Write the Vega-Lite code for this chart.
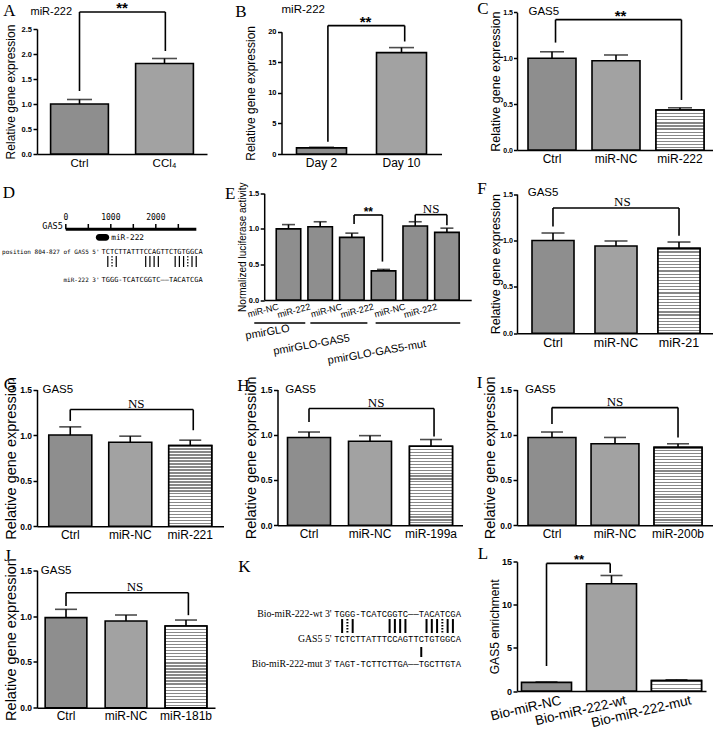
{
"$schema": "https://vega.github.io/schema/vega-lite/v6.json",
"background": "white",
"padding": {"left": 2, "top": 0, "right": 0, "bottom": 0},
"config": {
  "view": {"stroke": null},
  "font": "Liberation Sans",
  "axis": {"domainColor": "black", "domainWidth": 1.5, "tickColor": "black", "tickWidth": 1.5, "tickSize": 4, "labelColor": "black", "titleColor": "black", "labelFont": "Liberation Sans", "titleFont": "Liberation Sans", "titleFontWeight": "normal", "grid": false, "labelOverlap": false, "labelBound": false},
  "axisX": {"ticks": false, "labelAngle": 0, "labelPadding": 3, "labelFontSize": 12},
  "axisY": {"labelFontWeight": "bold", "labelFontSize": 7.5, "labelPadding": 1.5, "titleFontSize": 12, "labelOverlap": false},
  "text": {"color": "black"},
  "rule": {"color": "black"},
  "tick": {"color": "black"}
},
"columns": 3,
"align": "each",
"bounds": "flush",
"spacing": {"row": 34.5, "column": 10},
"concat": [
 {"width": 170, "height": 142, "resolve": {"scale": {"x": "independent"}}, "layer": [
  {"data": {"values": [{"g": "Ctrl", "v": 1.0, "e": 1.09, "p": "fine"}, {"g": "CCl₄", "v": 1.81, "e": 1.91, "p": "coarse"}]},
   "layer": [
    {"mark": {"type": "bar", "stroke": "black", "strokeWidth": 1.6}, "encoding": {
      "x": {"field": "g", "type": "nominal", "sort": null, "scale": {"paddingInner": 0.32, "paddingOuter": 0.16}, "axis": {"title": null, "labelFontSize": 11.5}},
      "y": {"field": "v", "type": "quantitative", "scale": {"domain": [0, 2.5], "range": [142, 17], "nice": false}, "axis": {"values": [0, 0.5, 1, 1.5, 2, 2.5], "tickCount": 12, "format": ".1f", "labelOverlap": false, "title": "Relative gene expression", "titleFontSize": 12, "titlePadding": 3.6}},
      "fill": {"field": "p", "type": "nominal", "scale": {"domain": ["fine", "coarse", "stripe"], "range": ["#8e8e8e", "#a2a2a2", "#d0d0d0"]}, "legend": null}}},
    {"mark": {"type": "rule", "strokeWidth": 1.6}, "encoding": {"x": {"field": "g", "type": "nominal", "sort": null}, "y": {"field": "v", "type": "quantitative"}, "y2": {"field": "e"}}},
    {"mark": {"type": "tick", "thickness": 1.6, "size": 25}, "encoding": {"x": {"field": "g", "type": "nominal", "sort": null}, "y": {"field": "e", "type": "quantitative"}}}
   ]},
  {"layer": [
   {"data": {"values": [{"x": 0, "x2": 0, "y": 2.84, "y2": 1.26}, {"x": 0, "x2": 1.01, "y": 2.84, "y2": 2.84}, {"x": 1.01, "x2": 1.01, "y": 2.84, "y2": 2.06}]},
    "mark": {"type": "rule", "strokeWidth": 1.6},
    "encoding": {"x": {"field": "x", "type": "quantitative", "scale": {"domain": [-0.5, 1.5], "nice": false, "zero": false}, "axis": null}, "x2": {"field": "x2"}, "y": {"field": "y", "type": "quantitative"}, "y2": {"field": "y2"}}},
   {"data": {"values": [{"x": 0.5, "y": 2.84, "s": "**"}]},
    "mark": {"type": "text", "fontWeight": "bold", "fontSize": 15, "baseline": "alphabetic", "dy": 1},
    "encoding": {"x": {"field": "x", "type": "quantitative", "axis": null}, "y": {"field": "y", "type": "quantitative"}, "text": {"field": "s"}}},
   {"data": {"values": [{"s": "miR-222"}]},
    "mark": {"type": "text", "fontSize": 11, "align": "left", "baseline": "middle", "dx": -6.5, "dy": -17},
    "encoding": {"x": {"datum": -0.5, "type": "quantitative", "axis": null}, "y": {"datum": 2.5, "type": "quantitative"}, "text": {"field": "s"}}},
   {"data": {"values": [{"s": "A"}]},
    "mark": {"type": "text", "font": "Liberation Serif", "fontSize": 17, "align": "center", "baseline": "middle", "dx": -27.5, "dy": -18},
    "encoding": {"x": {"datum": -0.5, "type": "quantitative", "axis": null}, "y": {"datum": 2.5, "type": "quantitative"}, "text": {"field": "s"}}}
  ]}
 ]},
 {"width": 203.5, "height": 142, "resolve": {"scale": {"x": "independent"}}, "layer": [
  {"data": {"values": [{"g": "Day 2", "v": 1.0, "e": 1.1, "p": "fine"}, {"g": "Day 10", "v": 16.57, "e": 17.4, "p": "coarse"}]},
   "layer": [
    {"mark": {"type": "bar", "stroke": "black", "strokeWidth": 1.6}, "encoding": {
      "x": {"field": "g", "type": "nominal", "sort": null, "scale": {"paddingInner": 0.375, "paddingOuter": 0.1875, "range": [43.5, 203.5]}, "axis": {"title": null, "labelFontSize": 12}},
      "y": {"field": "v", "type": "quantitative", "scale": {"domain": [0, 20], "range": [142, 19.7], "nice": false}, "axis": {"offset": -43.5, "values": [0, 5, 10, 15, 20], "tickCount": 12, "format": "d", "labelOverlap": false, "title": "Relative gene expression", "titleFontSize": 12, "titlePadding": 10}},
      "fill": {"field": "p", "type": "nominal", "scale": {"domain": ["fine", "coarse", "stripe"], "range": ["#8e8e8e", "#a2a2a2", "#d0d0d0"]}, "legend": null}}},
    {"mark": {"type": "rule", "strokeWidth": 1.6}, "encoding": {"x": {"field": "g", "type": "nominal", "sort": null}, "y": {"field": "v", "type": "quantitative"}, "y2": {"field": "e"}}},
    {"mark": {"type": "tick", "thickness": 1.6, "size": 25}, "encoding": {"x": {"field": "g", "type": "nominal", "sort": null}, "y": {"field": "e", "type": "quantitative"}}}
   ]},
  {"layer": [
   {"data": {"values": [{"x": 0.08, "x2": 0.08, "y": 21, "y2": 2}, {"x": 0.08, "x2": 1.04, "y": 21, "y2": 21}, {"x": 1.04, "x2": 1.04, "y": 21, "y2": 18.4}]},
    "mark": {"type": "rule", "strokeWidth": 1.6},
    "encoding": {"x": {"field": "x", "type": "quantitative", "scale": {"domain": [-0.5, 1.5], "range": [43.5, 203.5], "nice": false, "zero": false}, "axis": null}, "x2": {"field": "x2"}, "y": {"field": "y", "type": "quantitative"}, "y2": {"field": "y2"}}},
   {"data": {"values": [{"x": 0.55, "y": 21, "s": "**"}]},
    "mark": {"type": "text", "fontWeight": "bold", "fontSize": 15, "baseline": "alphabetic", "dy": 1},
    "encoding": {"x": {"field": "x", "type": "quantitative", "axis": null}, "y": {"field": "y", "type": "quantitative"}, "text": {"field": "s"}}},
   {"data": {"values": [{"s": "miR-222"}]},
    "mark": {"type": "text", "fontSize": 11.5, "align": "left", "baseline": "middle", "dx": 0, "dy": -21.7},
    "encoding": {"x": {"datum": -0.5, "type": "quantitative", "axis": null}, "y": {"datum": 20, "type": "quantitative"}, "text": {"field": "s"}}},
   {"data": {"values": [{"s": "B"}]},
    "mark": {"type": "text", "font": "Liberation Serif", "fontSize": 17, "align": "center", "baseline": "middle", "dx": -40.5, "dy": -19.7},
    "encoding": {"x": {"datum": -0.5, "type": "quantitative", "axis": null}, "y": {"datum": 20, "type": "quantitative"}, "text": {"field": "s"}}}
  ]}
 ]},
 {"width": 198, "height": 138, "resolve": {"scale": {"x": "independent"}}, "layer": [
  {"data": {"values": [{"g": "Ctrl", "v": 1.0, "e": 1.07, "p": "fine"}, {"g": "miR-NC", "v": 0.973, "e": 1.035, "p": "coarse"}, {"g": "miR-222", "v": 0.436, "e": 0.46, "p": "stripe"}]},
   "layer": [
    {"mark": {"type": "bar", "stroke": "black", "strokeWidth": 1.6}, "encoding": {
      "x": {"field": "g", "type": "nominal", "sort": null, "scale": {"paddingInner": 0.25, "paddingOuter": 0.172}, "axis": {"title": null, "labelFontSize": 12}},
      "y": {"field": "v", "type": "quantitative", "scale": {"domain": [0, 1.5], "range": [138, 0.3], "nice": false}, "axis": {"values": [0, 0.5, 1, 1.5], "tickCount": 12, "format": ".1f", "labelOverlap": false, "title": "Relative gene expression", "titleFontSize": 12.5, "titlePadding": 0, "tickSize": 3.5, "labelPadding": 1, "labelFontSize": 7}},
      "fill": {"field": "p", "type": "nominal", "scale": {"domain": ["fine", "coarse", "stripe"], "range": ["#8e8e8e", "#a2a2a2", "#d0d0d0"]}, "legend": null}}},
    {"transform": [{"filter": "datum.p == 'stripe'"}], "mark": {"type": "bar", "stroke": "black", "strokeWidth": 1.6, "fill": {"gradient": "linear", "x1": 0, "y1": 0, "x2": 0, "y2": 1, "stops": [
      {"offset": 0, "color": "#888"}, {"offset": 0.0308, "color": "#888"}, {"offset": 0.0308, "color": "#fff"}, {"offset": 0.0769, "color": "#fff"},
      {"offset": 0.0769, "color": "#888"}, {"offset": 0.1077, "color": "#888"}, {"offset": 0.1077, "color": "#fff"}, {"offset": 0.1538, "color": "#fff"},
      {"offset": 0.1538, "color": "#888"}, {"offset": 0.1846, "color": "#888"}, {"offset": 0.1846, "color": "#fff"}, {"offset": 0.2308, "color": "#fff"},
      {"offset": 0.2308, "color": "#888"}, {"offset": 0.2615, "color": "#888"}, {"offset": 0.2615, "color": "#fff"}, {"offset": 0.3077, "color": "#fff"},
      {"offset": 0.3077, "color": "#888"}, {"offset": 0.3385, "color": "#888"}, {"offset": 0.3385, "color": "#fff"}, {"offset": 0.3846, "color": "#fff"},
      {"offset": 0.3846, "color": "#888"}, {"offset": 0.4154, "color": "#888"}, {"offset": 0.4154, "color": "#fff"}, {"offset": 0.4615, "color": "#fff"},
      {"offset": 0.4615, "color": "#888"}, {"offset": 0.4923, "color": "#888"}, {"offset": 0.4923, "color": "#fff"}, {"offset": 0.5385, "color": "#fff"},
      {"offset": 0.5385, "color": "#888"}, {"offset": 0.5692, "color": "#888"}, {"offset": 0.5692, "color": "#fff"}, {"offset": 0.6154, "color": "#fff"},
      {"offset": 0.6154, "color": "#888"}, {"offset": 0.6462, "color": "#888"}, {"offset": 0.6462, "color": "#fff"}, {"offset": 0.6923, "color": "#fff"},
      {"offset": 0.6923, "color": "#888"}, {"offset": 0.7231, "color": "#888"}, {"offset": 0.7231, "color": "#fff"}, {"offset": 0.7692, "color": "#fff"},
      {"offset": 0.7692, "color": "#888"}, {"offset": 0.8, "color": "#888"}, {"offset": 0.8, "color": "#fff"}, {"offset": 0.8462, "color": "#fff"},
      {"offset": 0.8462, "color": "#888"}, {"offset": 0.8769, "color": "#888"}, {"offset": 0.8769, "color": "#fff"}, {"offset": 0.9231, "color": "#fff"},
      {"offset": 0.9231, "color": "#888"}, {"offset": 0.9538, "color": "#888"}, {"offset": 0.9538, "color": "#fff"}, {"offset": 1, "color": "#fff"}]}},
     "encoding": {"x": {"field": "g", "type": "nominal", "sort": null}, "y": {"field": "v", "type": "quantitative"}}},
    {"mark": {"type": "rule", "strokeWidth": 1.6}, "encoding": {"x": {"field": "g", "type": "nominal", "sort": null}, "y": {"field": "v", "type": "quantitative"}, "y2": {"field": "e"}}},
    {"mark": {"type": "tick", "thickness": 1.6, "size": 24}, "encoding": {"x": {"field": "g", "type": "nominal", "sort": null}, "y": {"field": "e", "type": "quantitative"}}}
   ]},
  {"layer": [
   {"data": {"values": [{"x": 0.055, "x2": 0.055, "y": 1.42, "y2": 1.17}, {"x": 0.055, "x2": 2.023, "y": 1.42, "y2": 1.42}, {"x": 2.023, "x2": 2.023, "y": 1.42, "y2": 0.545}]},
    "mark": {"type": "rule", "strokeWidth": 1.6},
    "encoding": {"x": {"field": "x", "type": "quantitative", "scale": {"domain": [-0.547, 2.547], "nice": false, "zero": false}, "axis": null}, "x2": {"field": "x2"}, "y": {"field": "y", "type": "quantitative"}, "y2": {"field": "y2"}}},
   {"data": {"values": [{"x": 1.07, "y": 1.42, "s": "**"}]},
    "mark": {"type": "text", "fontWeight": "bold", "fontSize": 15, "baseline": "alphabetic", "dy": 1},
    "encoding": {"x": {"field": "x", "type": "quantitative", "axis": null}, "y": {"field": "y", "type": "quantitative"}, "text": {"field": "s"}}},
   {"data": {"values": [{"s": "GAS5"}]},
    "mark": {"type": "text", "fontSize": 11.5, "align": "left", "baseline": "middle", "dx": 11.5, "dy": 0},
    "encoding": {"x": {"datum": -0.547, "type": "quantitative", "axis": null}, "y": {"datum": 1.5, "type": "quantitative"}, "text": {"field": "s"}}},
   {"data": {"values": [{"s": "C"}]},
    "mark": {"type": "text", "font": "Liberation Serif", "fontSize": 17, "align": "center", "baseline": "middle", "dx": -34, "dy": -3.3},
    "encoding": {"x": {"datum": -0.547, "type": "quantitative", "axis": null}, "y": {"datum": 1.5, "type": "quantitative"}, "text": {"field": "s"}}}
  ]}
 ]},
 {"width": 191, "height": 144.8, "resolve": {"scale": {"x": "independent"}}, "layer": [
  {"layer": [
   {"data": {"values": [{"from": 0, "to": 2900}]}, "mark": {"type": "rule", "strokeWidth": 3},
    "encoding": {"x": {"field": "from", "type": "quantitative", "scale": {"domain": [-640, 3604], "nice": false, "zero": false}, "axis": null}, "x2": {"field": "to"}, "y": {"datum": 40.8, "type": "quantitative", "scale": {"domain": [0, 144.8], "reverse": true, "nice": false, "zero": false}, "axis": null}}},
   {"data": {"values": [{"nt": 0, "lab": "0"}, {"nt": 500, "lab": ""}, {"nt": 1000, "lab": "1000"}, {"nt": 1500, "lab": ""}, {"nt": 2000, "lab": "2000"}, {"nt": 2500, "lab": ""}]},
    "layer": [
     {"mark": {"type": "rule", "strokeWidth": 1.5}, "encoding": {"x": {"field": "nt", "type": "quantitative", "axis": null}, "y": {"datum": 35.5, "type": "quantitative", "axis": null}, "y2": {"datum": 40.8}}},
     {"mark": {"type": "text", "font": "DejaVu Sans Mono", "fontSize": 8, "baseline": "middle"}, "encoding": {"x": {"field": "nt", "type": "quantitative", "axis": null}, "y": {"datum": 29.5, "type": "quantitative", "axis": null}, "text": {"field": "lab"}}}
    ]},
   {"data": {"values": [{"s": "GAS5", "at": 0}]}, "mark": {"type": "text", "font": "DejaVu Sans Mono", "fontSize": 8.5, "align": "right", "baseline": "middle", "dx": -3},
    "encoding": {"x": {"field": "at", "type": "quantitative", "axis": null}, "y": {"datum": 37.5, "type": "quantitative", "axis": null}, "text": {"field": "s"}}},
   {"data": {"values": [{"from": 667, "to": 964, "s": "miR-222"}]}, "layer": [
     {"mark": {"type": "rect", "color": "black", "cornerRadius": 3.3}, "encoding": {"x": {"field": "from", "type": "quantitative", "axis": null}, "x2": {"field": "to"}, "y": {"datum": 45.5, "type": "quantitative", "axis": null}, "y2": {"datum": 52.2}}},
     {"mark": {"type": "text", "font": "DejaVu Sans Mono", "fontSize": 7.8, "align": "left", "baseline": "middle", "dx": 2}, "encoding": {"x": {"field": "to", "type": "quantitative", "axis": null}, "y": {"datum": 49, "type": "quantitative", "axis": null}, "text": {"field": "s"}}}
   ]}
  ]},
  {"layer": [
   {"data": {"values": [{"s": "TCTCTTATTTCCAGTTCTGTGGCA"}]}, "mark": {"type": "text", "font": "DejaVu Sans Mono", "fontSize": 7, "align": "left", "baseline": "middle"},
    "encoding": {"x": {"datum": -0.5, "type": "quantitative", "scale": {"domain": [-15.82, 29.55], "nice": false, "zero": false}, "axis": null}, "y": {"datum": 63.2, "type": "quantitative", "axis": null}, "text": {"field": "s"}}},
   {"data": {"values": [{"s": "TGGG-TCATCGGTC——TACATCGA"}]}, "mark": {"type": "text", "font": "DejaVu Sans Mono", "fontSize": 7, "align": "left", "baseline": "middle"},
    "encoding": {"x": {"datum": -0.5, "type": "quantitative", "axis": null}, "y": {"datum": 91.5, "type": "quantitative", "axis": null}, "text": {"field": "s"}}},
   {"data": {"values": [{"s": "position 804-827 of GAS5 5'"}]}, "mark": {"type": "text", "font": "DejaVu Sans Mono", "fontSize": 6, "align": "right", "baseline": "middle"},
    "encoding": {"x": {"datum": -0.95, "type": "quantitative", "axis": null}, "y": {"datum": 63.2, "type": "quantitative", "axis": null}, "text": {"field": "s"}}},
   {"data": {"values": [{"s": "miR-222 3'"}]}, "mark": {"type": "text", "font": "DejaVu Sans Mono", "fontSize": 6, "align": "right", "baseline": "middle"},
    "encoding": {"x": {"datum": -0.95, "type": "quantitative", "axis": null}, "y": {"datum": 91.5, "type": "quantitative", "axis": null}, "text": {"field": "s"}}},
   {"data": {"values": [{"c": 1, "k": "wc"}, {"c": 2, "k": "gu"}, {"c": 3, "k": "wc"}, {"c": 10, "k": "wc"}, {"c": 11, "k": "wc"}, {"c": 12, "k": "wc"}, {"c": 13, "k": "wc"}, {"c": 17, "k": "wc"}, {"c": 18, "k": "wc"}, {"c": 19, "k": "wc"}, {"c": 20, "k": "gu"}, {"c": 21, "k": "wc"}, {"c": 22, "k": "wc"}]},
    "mark": {"type": "rule", "strokeWidth": 1.2},
    "encoding": {"x": {"field": "c", "type": "quantitative", "axis": null}, "y": {"datum": 67.5, "type": "quantitative", "axis": null}, "y2": {"datum": 78.5}, "strokeDash": {"field": "k", "type": "nominal", "scale": {"domain": ["wc", "gu"], "range": [[1, 0], [1.5, 1.5]]}, "legend": null}}},
   {"data": {"values": [{"s": "D"}]}, "mark": {"type": "text", "font": "Liberation Serif", "fontSize": 17, "align": "center", "baseline": "middle", "dx": -28, "dy": 4.5},
    "encoding": {"x": {"datum": -15.82, "type": "quantitative", "axis": null}, "y": {"datum": 0, "type": "quantitative", "axis": null}, "text": {"field": "s"}}}
  ]}
 ]},
 {"width": 233.2, "height": 111.5, "resolve": {"scale": {"x": "independent"}}, "layer": [
  {"data": {"values": [{"g": "miR-NC|1", "v": 1.0, "e": 1.06, "p": "fine"}, {"g": "miR-222|1", "v": 1.03, "e": 1.1, "p": "fine"}, {"g": "miR-NC|2", "v": 0.88, "e": 0.94, "p": "fine"}, {"g": "miR-222|2", "v": 0.41, "e": 0.43, "p": "fine"}, {"g": "miR-NC|3", "v": 1.04, "e": 1.1, "p": "fine"}, {"g": "miR-222|3", "v": 0.95, "e": 1.01, "p": "fine"}]},
   "layer": [
    {"mark": {"type": "bar", "stroke": "black", "strokeWidth": 1.6}, "encoding": {
      "x": {"field": "g", "type": "nominal", "sort": null, "scale": {"paddingInner": 0.227, "paddingOuter": 0.38, "range": [26.2, 233.2]}, "axis": {"title": null, "labelExpr": "split(datum.label, '|')[0]", "labelAngle": -15, "labelAlign": "right", "labelBaseline": "top", "labelFontSize": 9, "labelPadding": 2, "labelOffset": -11}},
      "y": {"field": "v", "type": "quantitative", "scale": {"domain": [0, 1.5], "range": [111.5, 4.8], "nice": false}, "axis": {"offset": -26.2, "values": [0, 0.5, 1, 1.5], "tickCount": 12, "format": ".1f", "labelOverlap": false, "title": "Normalized luciferase activity", "titleFontSize": 10, "titlePadding": 1}},
      "fill": {"field": "p", "type": "nominal", "scale": {"domain": ["fine", "coarse", "stripe"], "range": ["#8e8e8e", "#a2a2a2", "#d0d0d0"]}, "legend": null}}},
    {"mark": {"type": "rule", "strokeWidth": 1.6}, "encoding": {"x": {"field": "g", "type": "nominal", "sort": null}, "y": {"field": "v", "type": "quantitative"}, "y2": {"field": "e"}}},
    {"mark": {"type": "tick", "thickness": 1.6, "size": 13}, "encoding": {"x": {"field": "g", "type": "nominal", "sort": null}, "y": {"field": "e", "type": "quantitative"}}}
   ]},
  {"layer": [
   {"data": {"values": [{"x": 2.07, "x2": 2.07, "y": 1.195, "y2": 1.07}, {"x": 2.07, "x2": 2.965, "y": 1.195, "y2": 1.195}, {"x": 2.965, "x2": 2.965, "y": 1.195, "y2": 0.54}, {"x": 4.0, "x2": 4.0, "y": 1.2, "y2": 1.1}, {"x": 4.0, "x2": 5.0, "y": 1.2, "y2": 1.2}, {"x": 5.0, "x2": 5.0, "y": 1.2, "y2": 1.05}, {"x": -1.08, "x2": 0.53, "y": -0.323, "y2": -0.323}, {"x": 0.69, "x2": 2.49, "y": -0.323, "y2": -0.323}, {"x": 2.75, "x2": 5.42, "y": -0.323, "y2": -0.323}]},
    "mark": {"type": "rule", "strokeWidth": 1.6},
    "encoding": {"x": {"field": "x", "type": "quantitative", "scale": {"domain": [-0.7665, 5.7665], "range": [26.2, 233.2], "nice": false, "zero": false}, "axis": null}, "x2": {"field": "x2"}, "y": {"field": "y", "type": "quantitative"}, "y2": {"field": "y2"}}},
   {"data": {"values": [{"x": 2.52, "y": 1.195, "s": "**"}]},
    "mark": {"type": "text", "fontWeight": "bold", "fontSize": 12, "baseline": "alphabetic", "dy": 1},
    "encoding": {"x": {"field": "x", "type": "quantitative", "axis": null}, "y": {"field": "y", "type": "quantitative"}, "text": {"field": "s"}}},
   {"data": {"values": [{"x": 4.5, "y": 1.2, "s": "NS"}]},
    "mark": {"type": "text", "font": "Liberation Serif", "fontSize": 13, "baseline": "alphabetic", "dy": -1.5},
    "encoding": {"x": {"field": "x", "type": "quantitative", "axis": null}, "y": {"field": "y", "type": "quantitative"}, "text": {"field": "s"}}},
   {"data": {"values": [{"x": -0.66, "y": -0.457, "s": "pmirGLO"}, {"x": 0.73, "y": -0.633, "s": "pmirGLO-GAS5"}, {"x": 2.79, "y": -0.738, "s": "pmirGLO-GAS5-mut"}]},
    "mark": {"type": "text", "fontSize": 11, "angle": -10, "baseline": "middle"},
    "encoding": {"x": {"field": "x", "type": "quantitative", "axis": null}, "y": {"field": "y", "type": "quantitative"}, "text": {"field": "s"}}},
   {"data": {"values": [{"s": "E"}]},
    "mark": {"type": "text", "font": "Liberation Serif", "fontSize": 17, "align": "center", "baseline": "middle", "dx": -34, "dy": 0.7},
    "encoding": {"x": {"datum": -0.7665, "type": "quantitative", "axis": null}, "y": {"datum": 1.5, "type": "quantitative"}, "text": {"field": "s"}}}
  ]}
 ]},
 {"width": 198, "height": 144.8, "resolve": {"scale": {"x": "independent"}}, "layer": [
  {"data": {"values": [{"g": "Ctrl", "v": 1.0, "e": 1.08, "p": "fine"}, {"g": "miR-NC", "v": 0.94, "e": 0.994, "p": "coarse"}, {"g": "miR-21", "v": 0.915, "e": 0.983, "p": "stripe"}]},
   "layer": [
    {"mark": {"type": "bar", "stroke": "black", "strokeWidth": 1.6}, "encoding": {
      "x": {"field": "g", "type": "nominal", "sort": null, "scale": {"paddingInner": 0.333, "paddingOuter": 0.238}, "axis": {"title": null, "labelFontSize": 12.5}},
      "y": {"field": "v", "type": "quantitative", "scale": {"domain": [0, 1.5], "range": [144.8, 5.5], "nice": false}, "axis": {"values": [0, 0.5, 1, 1.5], "tickCount": 12, "format": ".1f", "labelOverlap": false, "title": "Relative gene expression", "titleFontSize": 12.5, "titlePadding": 0, "tickSize": 3.5, "labelPadding": 1, "labelFontSize": 7.2}},
      "fill": {"field": "p", "type": "nominal", "scale": {"domain": ["fine", "coarse", "stripe"], "range": ["#8e8e8e", "#a2a2a2", "#d0d0d0"]}, "legend": null}}},
    {"transform": [{"filter": "datum.p == 'stripe'"}], "mark": {"type": "bar", "stroke": "black", "strokeWidth": 1.6, "fill": {"gradient": "linear", "x1": 0, "y1": 0, "x2": 0, "y2": 1, "stops": [
      {"offset": 0, "color": "#888"}, {"offset": 0.0148, "color": "#888"}, {"offset": 0.0148, "color": "#fff"}, {"offset": 0.037, "color": "#fff"},
      {"offset": 0.037, "color": "#888"}, {"offset": 0.0519, "color": "#888"}, {"offset": 0.0519, "color": "#fff"}, {"offset": 0.0741, "color": "#fff"},
      {"offset": 0.0741, "color": "#888"}, {"offset": 0.0889, "color": "#888"}, {"offset": 0.0889, "color": "#fff"}, {"offset": 0.1111, "color": "#fff"},
      {"offset": 0.1111, "color": "#888"}, {"offset": 0.1259, "color": "#888"}, {"offset": 0.1259, "color": "#fff"}, {"offset": 0.1481, "color": "#fff"},
      {"offset": 0.1481, "color": "#888"}, {"offset": 0.163, "color": "#888"}, {"offset": 0.163, "color": "#fff"}, {"offset": 0.1852, "color": "#fff"},
      {"offset": 0.1852, "color": "#888"}, {"offset": 0.2, "color": "#888"}, {"offset": 0.2, "color": "#fff"}, {"offset": 0.2222, "color": "#fff"},
      {"offset": 0.2222, "color": "#888"}, {"offset": 0.237, "color": "#888"}, {"offset": 0.237, "color": "#fff"}, {"offset": 0.2593, "color": "#fff"},
      {"offset": 0.2593, "color": "#888"}, {"offset": 0.2741, "color": "#888"}, {"offset": 0.2741, "color": "#fff"}, {"offset": 0.2963, "color": "#fff"},
      {"offset": 0.2963, "color": "#888"}, {"offset": 0.3111, "color": "#888"}, {"offset": 0.3111, "color": "#fff"}, {"offset": 0.3333, "color": "#fff"},
      {"offset": 0.3333, "color": "#888"}, {"offset": 0.3481, "color": "#888"}, {"offset": 0.3481, "color": "#fff"}, {"offset": 0.3704, "color": "#fff"},
      {"offset": 0.3704, "color": "#888"}, {"offset": 0.3852, "color": "#888"}, {"offset": 0.3852, "color": "#fff"}, {"offset": 0.4074, "color": "#fff"},
      {"offset": 0.4074, "color": "#888"}, {"offset": 0.4222, "color": "#888"}, {"offset": 0.4222, "color": "#fff"}, {"offset": 0.4444, "color": "#fff"},
      {"offset": 0.4444, "color": "#888"}, {"offset": 0.4593, "color": "#888"}, {"offset": 0.4593, "color": "#fff"}, {"offset": 0.4815, "color": "#fff"},
      {"offset": 0.4815, "color": "#888"}, {"offset": 0.4963, "color": "#888"}, {"offset": 0.4963, "color": "#fff"}, {"offset": 0.5185, "color": "#fff"},
      {"offset": 0.5185, "color": "#888"}, {"offset": 0.5333, "color": "#888"}, {"offset": 0.5333, "color": "#fff"}, {"offset": 0.5556, "color": "#fff"},
      {"offset": 0.5556, "color": "#888"}, {"offset": 0.5704, "color": "#888"}, {"offset": 0.5704, "color": "#fff"}, {"offset": 0.5926, "color": "#fff"},
      {"offset": 0.5926, "color": "#888"}, {"offset": 0.6074, "color": "#888"}, {"offset": 0.6074, "color": "#fff"}, {"offset": 0.6296, "color": "#fff"},
      {"offset": 0.6296, "color": "#888"}, {"offset": 0.6444, "color": "#888"}, {"offset": 0.6444, "color": "#fff"}, {"offset": 0.6667, "color": "#fff"},
      {"offset": 0.6667, "color": "#888"}, {"offset": 0.6815, "color": "#888"}, {"offset": 0.6815, "color": "#fff"}, {"offset": 0.7037, "color": "#fff"},
      {"offset": 0.7037, "color": "#888"}, {"offset": 0.7185, "color": "#888"}, {"offset": 0.7185, "color": "#fff"}, {"offset": 0.7407, "color": "#fff"},
      {"offset": 0.7407, "color": "#888"}, {"offset": 0.7556, "color": "#888"}, {"offset": 0.7556, "color": "#fff"}, {"offset": 0.7778, "color": "#fff"},
      {"offset": 0.7778, "color": "#888"}, {"offset": 0.7926, "color": "#888"}, {"offset": 0.7926, "color": "#fff"}, {"offset": 0.8148, "color": "#fff"},
      {"offset": 0.8148, "color": "#888"}, {"offset": 0.8296, "color": "#888"}, {"offset": 0.8296, "color": "#fff"}, {"offset": 0.8519, "color": "#fff"},
      {"offset": 0.8519, "color": "#888"}, {"offset": 0.8667, "color": "#888"}, {"offset": 0.8667, "color": "#fff"}, {"offset": 0.8889, "color": "#fff"},
      {"offset": 0.8889, "color": "#888"}, {"offset": 0.9037, "color": "#888"}, {"offset": 0.9037, "color": "#fff"}, {"offset": 0.9259, "color": "#fff"},
      {"offset": 0.9259, "color": "#888"}, {"offset": 0.9407, "color": "#888"}, {"offset": 0.9407, "color": "#fff"}, {"offset": 0.963, "color": "#fff"},
      {"offset": 0.963, "color": "#888"}, {"offset": 0.9778, "color": "#888"}, {"offset": 0.9778, "color": "#fff"}, {"offset": 1, "color": "#fff"}]}},
     "encoding": {"x": {"field": "g", "type": "nominal", "sort": null}, "y": {"field": "v", "type": "quantitative"}}},
    {"mark": {"type": "rule", "strokeWidth": 1.6}, "encoding": {"x": {"field": "g", "type": "nominal", "sort": null}, "y": {"field": "v", "type": "quantitative"}, "y2": {"field": "e"}}},
    {"mark": {"type": "tick", "thickness": 1.6, "size": 23}, "encoding": {"x": {"field": "g", "type": "nominal", "sort": null}, "y": {"field": "e", "type": "quantitative"}}}
   ]},
  {"layer": [
   {"data": {"values": [{"x": 0, "x2": 0, "y": 1.35, "y2": 1.15}, {"x": 0, "x2": 2, "y": 1.35, "y2": 1.35}, {"x": 2, "x2": 2, "y": 1.35, "y2": 1.05}]},
    "mark": {"type": "rule", "strokeWidth": 1.6},
    "encoding": {"x": {"field": "x", "type": "quantitative", "scale": {"domain": [-0.571, 2.571], "nice": false, "zero": false}, "axis": null}, "x2": {"field": "x2"}, "y": {"field": "y", "type": "quantitative"}, "y2": {"field": "y2"}}},
   {"data": {"values": [{"x": 1.1, "y": 1.35, "s": "NS"}]},
    "mark": {"type": "text", "font": "Liberation Serif", "fontSize": 13, "baseline": "alphabetic", "dy": -1.5},
    "encoding": {"x": {"field": "x", "type": "quantitative", "axis": null}, "y": {"field": "y", "type": "quantitative"}, "text": {"field": "s"}}},
   {"data": {"values": [{"s": "GAS5"}]},
    "mark": {"type": "text", "fontSize": 11.5, "align": "left", "baseline": "middle", "dx": 10.7, "dy": -1},
    "encoding": {"x": {"datum": -0.571, "type": "quantitative", "axis": null}, "y": {"datum": 1.5, "type": "quantitative"}, "text": {"field": "s"}}},
   {"data": {"values": [{"s": "F"}]},
    "mark": {"type": "text", "font": "Liberation Serif", "fontSize": 17, "align": "center", "baseline": "middle", "dx": -35, "dy": -5},
    "encoding": {"x": {"datum": -0.571, "type": "quantitative", "axis": null}, "y": {"datum": 1.5, "type": "quantitative"}, "text": {"field": "s"}}}
  ]}
 ]},
 {"width": 186.5, "height": 158.2, "resolve": {"scale": {"x": "independent"}}, "layer": [
  {"data": {"values": [{"g": "Ctrl", "v": 1.0, "e": 1.09, "p": "fine"}, {"g": "miR-NC", "v": 0.922, "e": 0.988, "p": "coarse"}, {"g": "miR-221", "v": 0.886, "e": 0.944, "p": "stripe"}]},
   "layer": [
    {"mark": {"type": "bar", "stroke": "black", "strokeWidth": 1.6}, "encoding": {
      "x": {"field": "g", "type": "nominal", "sort": null, "scale": {"paddingInner": 0.283, "paddingOuter": 0.196}, "axis": {"title": null, "labelFontSize": 12}},
      "y": {"field": "v", "type": "quantitative", "scale": {"domain": [0, 1.5], "range": [158.2, 21.5], "nice": false}, "axis": {"values": [0, 0.5, 1, 1.5], "tickCount": 12, "format": ".1f", "labelOverlap": false, "title": "Relative gene expression", "titleFontSize": 14.5, "titlePadding": 1.5, "labelFontSize": 8.5}},
      "fill": {"field": "p", "type": "nominal", "scale": {"domain": ["fine", "coarse", "stripe"], "range": ["#8e8e8e", "#a2a2a2", "#d0d0d0"]}, "legend": null}}},
    {"transform": [{"filter": "datum.p == 'stripe'"}], "mark": {"type": "bar", "stroke": "black", "strokeWidth": 1.6, "fill": {"gradient": "linear", "x1": 0, "y1": 0, "x2": 0, "y2": 1, "stops": [
      {"offset": 0, "color": "#888"}, {"offset": 0.0148, "color": "#888"}, {"offset": 0.0148, "color": "#fff"}, {"offset": 0.037, "color": "#fff"},
      {"offset": 0.037, "color": "#888"}, {"offset": 0.0519, "color": "#888"}, {"offset": 0.0519, "color": "#fff"}, {"offset": 0.0741, "color": "#fff"},
      {"offset": 0.0741, "color": "#888"}, {"offset": 0.0889, "color": "#888"}, {"offset": 0.0889, "color": "#fff"}, {"offset": 0.1111, "color": "#fff"},
      {"offset": 0.1111, "color": "#888"}, {"offset": 0.1259, "color": "#888"}, {"offset": 0.1259, "color": "#fff"}, {"offset": 0.1481, "color": "#fff"},
      {"offset": 0.1481, "color": "#888"}, {"offset": 0.163, "color": "#888"}, {"offset": 0.163, "color": "#fff"}, {"offset": 0.1852, "color": "#fff"},
      {"offset": 0.1852, "color": "#888"}, {"offset": 0.2, "color": "#888"}, {"offset": 0.2, "color": "#fff"}, {"offset": 0.2222, "color": "#fff"},
      {"offset": 0.2222, "color": "#888"}, {"offset": 0.237, "color": "#888"}, {"offset": 0.237, "color": "#fff"}, {"offset": 0.2593, "color": "#fff"},
      {"offset": 0.2593, "color": "#888"}, {"offset": 0.2741, "color": "#888"}, {"offset": 0.2741, "color": "#fff"}, {"offset": 0.2963, "color": "#fff"},
      {"offset": 0.2963, "color": "#888"}, {"offset": 0.3111, "color": "#888"}, {"offset": 0.3111, "color": "#fff"}, {"offset": 0.3333, "color": "#fff"},
      {"offset": 0.3333, "color": "#888"}, {"offset": 0.3481, "color": "#888"}, {"offset": 0.3481, "color": "#fff"}, {"offset": 0.3704, "color": "#fff"},
      {"offset": 0.3704, "color": "#888"}, {"offset": 0.3852, "color": "#888"}, {"offset": 0.3852, "color": "#fff"}, {"offset": 0.4074, "color": "#fff"},
      {"offset": 0.4074, "color": "#888"}, {"offset": 0.4222, "color": "#888"}, {"offset": 0.4222, "color": "#fff"}, {"offset": 0.4444, "color": "#fff"},
      {"offset": 0.4444, "color": "#888"}, {"offset": 0.4593, "color": "#888"}, {"offset": 0.4593, "color": "#fff"}, {"offset": 0.4815, "color": "#fff"},
      {"offset": 0.4815, "color": "#888"}, {"offset": 0.4963, "color": "#888"}, {"offset": 0.4963, "color": "#fff"}, {"offset": 0.5185, "color": "#fff"},
      {"offset": 0.5185, "color": "#888"}, {"offset": 0.5333, "color": "#888"}, {"offset": 0.5333, "color": "#fff"}, {"offset": 0.5556, "color": "#fff"},
      {"offset": 0.5556, "color": "#888"}, {"offset": 0.5704, "color": "#888"}, {"offset": 0.5704, "color": "#fff"}, {"offset": 0.5926, "color": "#fff"},
      {"offset": 0.5926, "color": "#888"}, {"offset": 0.6074, "color": "#888"}, {"offset": 0.6074, "color": "#fff"}, {"offset": 0.6296, "color": "#fff"},
      {"offset": 0.6296, "color": "#888"}, {"offset": 0.6444, "color": "#888"}, {"offset": 0.6444, "color": "#fff"}, {"offset": 0.6667, "color": "#fff"},
      {"offset": 0.6667, "color": "#888"}, {"offset": 0.6815, "color": "#888"}, {"offset": 0.6815, "color": "#fff"}, {"offset": 0.7037, "color": "#fff"},
      {"offset": 0.7037, "color": "#888"}, {"offset": 0.7185, "color": "#888"}, {"offset": 0.7185, "color": "#fff"}, {"offset": 0.7407, "color": "#fff"},
      {"offset": 0.7407, "color": "#888"}, {"offset": 0.7556, "color": "#888"}, {"offset": 0.7556, "color": "#fff"}, {"offset": 0.7778, "color": "#fff"},
      {"offset": 0.7778, "color": "#888"}, {"offset": 0.7926, "color": "#888"}, {"offset": 0.7926, "color": "#fff"}, {"offset": 0.8148, "color": "#fff"},
      {"offset": 0.8148, "color": "#888"}, {"offset": 0.8296, "color": "#888"}, {"offset": 0.8296, "color": "#fff"}, {"offset": 0.8519, "color": "#fff"},
      {"offset": 0.8519, "color": "#888"}, {"offset": 0.8667, "color": "#888"}, {"offset": 0.8667, "color": "#fff"}, {"offset": 0.8889, "color": "#fff"},
      {"offset": 0.8889, "color": "#888"}, {"offset": 0.9037, "color": "#888"}, {"offset": 0.9037, "color": "#fff"}, {"offset": 0.9259, "color": "#fff"},
      {"offset": 0.9259, "color": "#888"}, {"offset": 0.9407, "color": "#888"}, {"offset": 0.9407, "color": "#fff"}, {"offset": 0.963, "color": "#fff"},
      {"offset": 0.963, "color": "#888"}, {"offset": 0.9778, "color": "#888"}, {"offset": 0.9778, "color": "#fff"}, {"offset": 1, "color": "#fff"}]}},
     "encoding": {"x": {"field": "g", "type": "nominal", "sort": null}, "y": {"field": "v", "type": "quantitative"}}},
    {"mark": {"type": "rule", "strokeWidth": 1.6}, "encoding": {"x": {"field": "g", "type": "nominal", "sort": null}, "y": {"field": "v", "type": "quantitative"}, "y2": {"field": "e"}}},
    {"mark": {"type": "tick", "thickness": 1.6, "size": 22}, "encoding": {"x": {"field": "g", "type": "nominal", "sort": null}, "y": {"field": "e", "type": "quantitative"}}}
   ]},
  {"layer": [
   {"data": {"values": [{"x": 0, "x2": 0, "y": 1.28, "y2": 1.155}, {"x": 0, "x2": 2.05, "y": 1.28, "y2": 1.28}, {"x": 2.05, "x2": 2.05, "y": 1.28, "y2": 1.053}]},
    "mark": {"type": "rule", "strokeWidth": 1.6},
    "encoding": {"x": {"field": "x", "type": "quantitative", "scale": {"domain": [-0.554, 2.554], "nice": false, "zero": false}, "axis": null}, "x2": {"field": "x2"}, "y": {"field": "y", "type": "quantitative"}, "y2": {"field": "y2"}}},
   {"data": {"values": [{"x": 1.1, "y": 1.28, "s": "NS"}]},
    "mark": {"type": "text", "font": "Liberation Serif", "fontSize": 13, "baseline": "alphabetic", "dy": -1.5},
    "encoding": {"x": {"field": "x", "type": "quantitative", "axis": null}, "y": {"field": "y", "type": "quantitative"}, "text": {"field": "s"}}},
   {"data": {"values": [{"s": "GAS5"}]},
    "mark": {"type": "text", "fontSize": 11.5, "align": "left", "baseline": "middle", "dx": 5.5, "dy": 0},
    "encoding": {"x": {"datum": -0.554, "type": "quantitative", "axis": null}, "y": {"datum": 1.5, "type": "quantitative"}, "text": {"field": "s"}}},
   {"data": {"values": [{"s": "G"}]},
    "mark": {"type": "text", "font": "Liberation Serif", "fontSize": 17, "align": "center", "baseline": "middle", "dx": -27, "dy": -5},
    "encoding": {"x": {"datum": -0.554, "type": "quantitative", "axis": null}, "y": {"datum": 1.5, "type": "quantitative"}, "text": {"field": "s"}}}
  ]}
 ]},
 {"width": 224.5, "height": 157.2, "resolve": {"scale": {"x": "independent"}}, "layer": [
  {"data": {"values": [{"g": "Ctrl", "v": 0.969, "e": 1.03, "p": "fine"}, {"g": "miR-NC", "v": 0.928, "e": 0.99, "p": "coarse"}, {"g": "miR-199a", "v": 0.873, "e": 0.947, "p": "stripe"}]},
   "layer": [
    {"mark": {"type": "bar", "stroke": "black", "strokeWidth": 1.6}, "encoding": {
      "x": {"field": "g", "type": "nominal", "sort": null, "scale": {"paddingInner": 0.295, "paddingOuter": 0.164, "range": [39.5, 224.5]}, "axis": {"title": null, "labelFontSize": 12}},
      "y": {"field": "v", "type": "quantitative", "scale": {"domain": [0, 1.5], "range": [157.2, 21.5], "nice": false}, "axis": {"offset": -39.5, "values": [0, 0.5, 1, 1.5], "tickCount": 12, "format": ".1f", "labelOverlap": false, "title": "Relative gene expression", "titleFontSize": 14.5, "titlePadding": 2, "labelFontSize": 8.5}},
      "fill": {"field": "p", "type": "nominal", "scale": {"domain": ["fine", "coarse", "stripe"], "range": ["#8e8e8e", "#a2a2a2", "#d0d0d0"]}, "legend": null}}},
    {"transform": [{"filter": "datum.p == 'stripe'"}], "mark": {"type": "bar", "stroke": "black", "strokeWidth": 1.6, "fill": {"gradient": "linear", "x1": 0, "y1": 0, "x2": 0, "y2": 1, "stops": [
      {"offset": 0, "color": "#888"}, {"offset": 0.0148, "color": "#888"}, {"offset": 0.0148, "color": "#fff"}, {"offset": 0.037, "color": "#fff"},
      {"offset": 0.037, "color": "#888"}, {"offset": 0.0519, "color": "#888"}, {"offset": 0.0519, "color": "#fff"}, {"offset": 0.0741, "color": "#fff"},
      {"offset": 0.0741, "color": "#888"}, {"offset": 0.0889, "color": "#888"}, {"offset": 0.0889, "color": "#fff"}, {"offset": 0.1111, "color": "#fff"},
      {"offset": 0.1111, "color": "#888"}, {"offset": 0.1259, "color": "#888"}, {"offset": 0.1259, "color": "#fff"}, {"offset": 0.1481, "color": "#fff"},
      {"offset": 0.1481, "color": "#888"}, {"offset": 0.163, "color": "#888"}, {"offset": 0.163, "color": "#fff"}, {"offset": 0.1852, "color": "#fff"},
      {"offset": 0.1852, "color": "#888"}, {"offset": 0.2, "color": "#888"}, {"offset": 0.2, "color": "#fff"}, {"offset": 0.2222, "color": "#fff"},
      {"offset": 0.2222, "color": "#888"}, {"offset": 0.237, "color": "#888"}, {"offset": 0.237, "color": "#fff"}, {"offset": 0.2593, "color": "#fff"},
      {"offset": 0.2593, "color": "#888"}, {"offset": 0.2741, "color": "#888"}, {"offset": 0.2741, "color": "#fff"}, {"offset": 0.2963, "color": "#fff"},
      {"offset": 0.2963, "color": "#888"}, {"offset": 0.3111, "color": "#888"}, {"offset": 0.3111, "color": "#fff"}, {"offset": 0.3333, "color": "#fff"},
      {"offset": 0.3333, "color": "#888"}, {"offset": 0.3481, "color": "#888"}, {"offset": 0.3481, "color": "#fff"}, {"offset": 0.3704, "color": "#fff"},
      {"offset": 0.3704, "color": "#888"}, {"offset": 0.3852, "color": "#888"}, {"offset": 0.3852, "color": "#fff"}, {"offset": 0.4074, "color": "#fff"},
      {"offset": 0.4074, "color": "#888"}, {"offset": 0.4222, "color": "#888"}, {"offset": 0.4222, "color": "#fff"}, {"offset": 0.4444, "color": "#fff"},
      {"offset": 0.4444, "color": "#888"}, {"offset": 0.4593, "color": "#888"}, {"offset": 0.4593, "color": "#fff"}, {"offset": 0.4815, "color": "#fff"},
      {"offset": 0.4815, "color": "#888"}, {"offset": 0.4963, "color": "#888"}, {"offset": 0.4963, "color": "#fff"}, {"offset": 0.5185, "color": "#fff"},
      {"offset": 0.5185, "color": "#888"}, {"offset": 0.5333, "color": "#888"}, {"offset": 0.5333, "color": "#fff"}, {"offset": 0.5556, "color": "#fff"},
      {"offset": 0.5556, "color": "#888"}, {"offset": 0.5704, "color": "#888"}, {"offset": 0.5704, "color": "#fff"}, {"offset": 0.5926, "color": "#fff"},
      {"offset": 0.5926, "color": "#888"}, {"offset": 0.6074, "color": "#888"}, {"offset": 0.6074, "color": "#fff"}, {"offset": 0.6296, "color": "#fff"},
      {"offset": 0.6296, "color": "#888"}, {"offset": 0.6444, "color": "#888"}, {"offset": 0.6444, "color": "#fff"}, {"offset": 0.6667, "color": "#fff"},
      {"offset": 0.6667, "color": "#888"}, {"offset": 0.6815, "color": "#888"}, {"offset": 0.6815, "color": "#fff"}, {"offset": 0.7037, "color": "#fff"},
      {"offset": 0.7037, "color": "#888"}, {"offset": 0.7185, "color": "#888"}, {"offset": 0.7185, "color": "#fff"}, {"offset": 0.7407, "color": "#fff"},
      {"offset": 0.7407, "color": "#888"}, {"offset": 0.7556, "color": "#888"}, {"offset": 0.7556, "color": "#fff"}, {"offset": 0.7778, "color": "#fff"},
      {"offset": 0.7778, "color": "#888"}, {"offset": 0.7926, "color": "#888"}, {"offset": 0.7926, "color": "#fff"}, {"offset": 0.8148, "color": "#fff"},
      {"offset": 0.8148, "color": "#888"}, {"offset": 0.8296, "color": "#888"}, {"offset": 0.8296, "color": "#fff"}, {"offset": 0.8519, "color": "#fff"},
      {"offset": 0.8519, "color": "#888"}, {"offset": 0.8667, "color": "#888"}, {"offset": 0.8667, "color": "#fff"}, {"offset": 0.8889, "color": "#fff"},
      {"offset": 0.8889, "color": "#888"}, {"offset": 0.9037, "color": "#888"}, {"offset": 0.9037, "color": "#fff"}, {"offset": 0.9259, "color": "#fff"},
      {"offset": 0.9259, "color": "#888"}, {"offset": 0.9407, "color": "#888"}, {"offset": 0.9407, "color": "#fff"}, {"offset": 0.963, "color": "#fff"},
      {"offset": 0.963, "color": "#888"}, {"offset": 0.9778, "color": "#888"}, {"offset": 0.9778, "color": "#fff"}, {"offset": 1, "color": "#fff"}]}},
     "encoding": {"x": {"field": "g", "type": "nominal", "sort": null}, "y": {"field": "v", "type": "quantitative"}}},
    {"mark": {"type": "rule", "strokeWidth": 1.6}, "encoding": {"x": {"field": "g", "type": "nominal", "sort": null}, "y": {"field": "v", "type": "quantitative"}, "y2": {"field": "e"}}},
    {"mark": {"type": "tick", "thickness": 1.6, "size": 22}, "encoding": {"x": {"field": "g", "type": "nominal", "sort": null}, "y": {"field": "e", "type": "quantitative"}}}
   ]},
  {"layer": [
   {"data": {"values": [{"x": 0, "x2": 0, "y": 1.29, "y2": 1.14}, {"x": 0, "x2": 2.05, "y": 1.29, "y2": 1.29}, {"x": 2.05, "x2": 2.05, "y": 1.29, "y2": 0.98}]},
    "mark": {"type": "rule", "strokeWidth": 1.6},
    "encoding": {"x": {"field": "x", "type": "quantitative", "scale": {"domain": [-0.5165, 2.5165], "range": [39.5, 224.5], "nice": false, "zero": false}, "axis": null}, "x2": {"field": "x2"}, "y": {"field": "y", "type": "quantitative"}, "y2": {"field": "y2"}}},
   {"data": {"values": [{"x": 1.1, "y": 1.29, "s": "NS"}]},
    "mark": {"type": "text", "font": "Liberation Serif", "fontSize": 13, "baseline": "alphabetic", "dy": -1.5},
    "encoding": {"x": {"field": "x", "type": "quantitative", "axis": null}, "y": {"field": "y", "type": "quantitative"}, "text": {"field": "s"}}},
   {"data": {"values": [{"s": "GAS5"}]},
    "mark": {"type": "text", "fontSize": 11.5, "align": "left", "baseline": "middle", "dx": 7.7, "dy": 0},
    "encoding": {"x": {"datum": -0.5165, "type": "quantitative", "axis": null}, "y": {"datum": 1.5, "type": "quantitative"}, "text": {"field": "s"}}},
   {"data": {"values": [{"s": "H"}]},
    "mark": {"type": "text", "font": "Liberation Serif", "fontSize": 17, "align": "center", "baseline": "middle", "dx": -34, "dy": -4},
    "encoding": {"x": {"datum": -0.5165, "type": "quantitative", "axis": null}, "y": {"datum": 1.5, "type": "quantitative"}, "text": {"field": "s"}}}
  ]}
 ]},
 {"width": 196, "height": 157.2, "resolve": {"scale": {"x": "independent"}}, "layer": [
  {"data": {"values": [{"g": "Ctrl", "v": 0.97, "e": 1.03, "p": "fine"}, {"g": "miR-NC", "v": 0.9, "e": 0.97, "p": "coarse"}, {"g": "miR-200b", "v": 0.86, "e": 0.9, "p": "stripe"}]},
   "layer": [
    {"mark": {"type": "bar", "stroke": "black", "strokeWidth": 1.6}, "encoding": {
      "x": {"field": "g", "type": "nominal", "sort": null, "scale": {"paddingInner": 0.24, "paddingOuter": 0.175}, "axis": {"title": null, "labelFontSize": 12}},
      "y": {"field": "v", "type": "quantitative", "scale": {"domain": [0, 1.5], "range": [157.2, 21.5], "nice": false}, "axis": {"values": [0, 0.5, 1, 1.5], "tickCount": 12, "format": ".1f", "labelOverlap": false, "title": "Relative gene expression", "titleFontSize": 14.5, "titlePadding": 2, "labelFontSize": 8.5}},
      "fill": {"field": "p", "type": "nominal", "scale": {"domain": ["fine", "coarse", "stripe"], "range": ["#8e8e8e", "#a2a2a2", "#d0d0d0"]}, "legend": null}}},
    {"transform": [{"filter": "datum.p == 'stripe'"}], "mark": {"type": "bar", "stroke": "black", "strokeWidth": 1.6, "fill": {"gradient": "linear", "x1": 0, "y1": 0, "x2": 0, "y2": 1, "stops": [
      {"offset": 0, "color": "#888"}, {"offset": 0.0148, "color": "#888"}, {"offset": 0.0148, "color": "#fff"}, {"offset": 0.037, "color": "#fff"},
      {"offset": 0.037, "color": "#888"}, {"offset": 0.0519, "color": "#888"}, {"offset": 0.0519, "color": "#fff"}, {"offset": 0.0741, "color": "#fff"},
      {"offset": 0.0741, "color": "#888"}, {"offset": 0.0889, "color": "#888"}, {"offset": 0.0889, "color": "#fff"}, {"offset": 0.1111, "color": "#fff"},
      {"offset": 0.1111, "color": "#888"}, {"offset": 0.1259, "color": "#888"}, {"offset": 0.1259, "color": "#fff"}, {"offset": 0.1481, "color": "#fff"},
      {"offset": 0.1481, "color": "#888"}, {"offset": 0.163, "color": "#888"}, {"offset": 0.163, "color": "#fff"}, {"offset": 0.1852, "color": "#fff"},
      {"offset": 0.1852, "color": "#888"}, {"offset": 0.2, "color": "#888"}, {"offset": 0.2, "color": "#fff"}, {"offset": 0.2222, "color": "#fff"},
      {"offset": 0.2222, "color": "#888"}, {"offset": 0.237, "color": "#888"}, {"offset": 0.237, "color": "#fff"}, {"offset": 0.2593, "color": "#fff"},
      {"offset": 0.2593, "color": "#888"}, {"offset": 0.2741, "color": "#888"}, {"offset": 0.2741, "color": "#fff"}, {"offset": 0.2963, "color": "#fff"},
      {"offset": 0.2963, "color": "#888"}, {"offset": 0.3111, "color": "#888"}, {"offset": 0.3111, "color": "#fff"}, {"offset": 0.3333, "color": "#fff"},
      {"offset": 0.3333, "color": "#888"}, {"offset": 0.3481, "color": "#888"}, {"offset": 0.3481, "color": "#fff"}, {"offset": 0.3704, "color": "#fff"},
      {"offset": 0.3704, "color": "#888"}, {"offset": 0.3852, "color": "#888"}, {"offset": 0.3852, "color": "#fff"}, {"offset": 0.4074, "color": "#fff"},
      {"offset": 0.4074, "color": "#888"}, {"offset": 0.4222, "color": "#888"}, {"offset": 0.4222, "color": "#fff"}, {"offset": 0.4444, "color": "#fff"},
      {"offset": 0.4444, "color": "#888"}, {"offset": 0.4593, "color": "#888"}, {"offset": 0.4593, "color": "#fff"}, {"offset": 0.4815, "color": "#fff"},
      {"offset": 0.4815, "color": "#888"}, {"offset": 0.4963, "color": "#888"}, {"offset": 0.4963, "color": "#fff"}, {"offset": 0.5185, "color": "#fff"},
      {"offset": 0.5185, "color": "#888"}, {"offset": 0.5333, "color": "#888"}, {"offset": 0.5333, "color": "#fff"}, {"offset": 0.5556, "color": "#fff"},
      {"offset": 0.5556, "color": "#888"}, {"offset": 0.5704, "color": "#888"}, {"offset": 0.5704, "color": "#fff"}, {"offset": 0.5926, "color": "#fff"},
      {"offset": 0.5926, "color": "#888"}, {"offset": 0.6074, "color": "#888"}, {"offset": 0.6074, "color": "#fff"}, {"offset": 0.6296, "color": "#fff"},
      {"offset": 0.6296, "color": "#888"}, {"offset": 0.6444, "color": "#888"}, {"offset": 0.6444, "color": "#fff"}, {"offset": 0.6667, "color": "#fff"},
      {"offset": 0.6667, "color": "#888"}, {"offset": 0.6815, "color": "#888"}, {"offset": 0.6815, "color": "#fff"}, {"offset": 0.7037, "color": "#fff"},
      {"offset": 0.7037, "color": "#888"}, {"offset": 0.7185, "color": "#888"}, {"offset": 0.7185, "color": "#fff"}, {"offset": 0.7407, "color": "#fff"},
      {"offset": 0.7407, "color": "#888"}, {"offset": 0.7556, "color": "#888"}, {"offset": 0.7556, "color": "#fff"}, {"offset": 0.7778, "color": "#fff"},
      {"offset": 0.7778, "color": "#888"}, {"offset": 0.7926, "color": "#888"}, {"offset": 0.7926, "color": "#fff"}, {"offset": 0.8148, "color": "#fff"},
      {"offset": 0.8148, "color": "#888"}, {"offset": 0.8296, "color": "#888"}, {"offset": 0.8296, "color": "#fff"}, {"offset": 0.8519, "color": "#fff"},
      {"offset": 0.8519, "color": "#888"}, {"offset": 0.8667, "color": "#888"}, {"offset": 0.8667, "color": "#fff"}, {"offset": 0.8889, "color": "#fff"},
      {"offset": 0.8889, "color": "#888"}, {"offset": 0.9037, "color": "#888"}, {"offset": 0.9037, "color": "#fff"}, {"offset": 0.9259, "color": "#fff"},
      {"offset": 0.9259, "color": "#888"}, {"offset": 0.9407, "color": "#888"}, {"offset": 0.9407, "color": "#fff"}, {"offset": 0.963, "color": "#fff"},
      {"offset": 0.963, "color": "#888"}, {"offset": 0.9778, "color": "#888"}, {"offset": 0.9778, "color": "#fff"}, {"offset": 1, "color": "#fff"}]}},
     "encoding": {"x": {"field": "g", "type": "nominal", "sort": null}, "y": {"field": "v", "type": "quantitative"}}},
    {"mark": {"type": "rule", "strokeWidth": 1.6}, "encoding": {"x": {"field": "g", "type": "nominal", "sort": null}, "y": {"field": "v", "type": "quantitative"}, "y2": {"field": "e"}}},
    {"mark": {"type": "tick", "thickness": 1.6, "size": 22}, "encoding": {"x": {"field": "g", "type": "nominal", "sort": null}, "y": {"field": "e", "type": "quantitative"}}}
   ]},
  {"layer": [
   {"data": {"values": [{"x": 0, "x2": 0, "y": 1.3, "y2": 1.12}, {"x": 0, "x2": 2.0, "y": 1.3, "y2": 1.3}, {"x": 2.0, "x2": 2.0, "y": 1.3, "y2": 0.97}]},
    "mark": {"type": "rule", "strokeWidth": 1.6},
    "encoding": {"x": {"field": "x", "type": "quantitative", "scale": {"domain": [-0.555, 2.555], "nice": false, "zero": false}, "axis": null}, "x2": {"field": "x2"}, "y": {"field": "y", "type": "quantitative"}, "y2": {"field": "y2"}}},
   {"data": {"values": [{"x": 1.0, "y": 1.3, "s": "NS"}]},
    "mark": {"type": "text", "font": "Liberation Serif", "fontSize": 13, "baseline": "alphabetic", "dy": -1.5},
    "encoding": {"x": {"field": "x", "type": "quantitative", "axis": null}, "y": {"field": "y", "type": "quantitative"}, "text": {"field": "s"}}},
   {"data": {"values": [{"s": "GAS5"}]},
    "mark": {"type": "text", "fontSize": 11.5, "align": "left", "baseline": "middle", "dx": 8, "dy": 0},
    "encoding": {"x": {"datum": -0.555, "type": "quantitative", "axis": null}, "y": {"datum": 1.5, "type": "quantitative"}, "text": {"field": "s"}}},
   {"data": {"values": [{"s": "I"}]},
    "mark": {"type": "text", "font": "Liberation Serif", "fontSize": 17, "align": "center", "baseline": "middle", "dx": -37.5, "dy": -7},
    "encoding": {"x": {"datum": -0.555, "type": "quantitative", "axis": null}, "y": {"datum": 1.5, "type": "quantitative"}, "text": {"field": "s"}}}
  ]}
 ]},
 {"width": 178, "height": 146.2, "resolve": {"scale": {"x": "independent"}}, "layer": [
  {"data": {"values": [{"g": "Ctrl", "v": 0.983, "e": 1.074, "p": "fine"}, {"g": "miR-NC", "v": 0.947, "e": 1.012, "p": "coarse"}, {"g": "miR-181b", "v": 0.892, "e": 0.957, "p": "stripe"}]},
   "layer": [
    {"mark": {"type": "bar", "stroke": "black", "strokeWidth": 1.6}, "encoding": {
      "x": {"field": "g", "type": "nominal", "sort": null, "scale": {"paddingInner": 0.305, "paddingOuter": 0.136}, "axis": {"title": null, "labelFontSize": 12}},
      "y": {"field": "v", "type": "quantitative", "scale": {"domain": [0, 1.5], "range": [146.2, 8.8], "nice": false}, "axis": {"values": [0, 0.5, 1, 1.5], "tickCount": 12, "format": ".1f", "labelOverlap": false, "title": "Relative gene expression", "titleFontSize": 14.5, "titlePadding": 1.5, "labelFontSize": 8.5}},
      "fill": {"field": "p", "type": "nominal", "scale": {"domain": ["fine", "coarse", "stripe"], "range": ["#8e8e8e", "#a2a2a2", "#d0d0d0"]}, "legend": null}}},
    {"transform": [{"filter": "datum.p == 'stripe'"}], "mark": {"type": "bar", "stroke": "black", "strokeWidth": 1.6, "fill": {"gradient": "linear", "x1": 0, "y1": 0, "x2": 0, "y2": 1, "stops": [
      {"offset": 0, "color": "#888"}, {"offset": 0.0148, "color": "#888"}, {"offset": 0.0148, "color": "#fff"}, {"offset": 0.037, "color": "#fff"},
      {"offset": 0.037, "color": "#888"}, {"offset": 0.0519, "color": "#888"}, {"offset": 0.0519, "color": "#fff"}, {"offset": 0.0741, "color": "#fff"},
      {"offset": 0.0741, "color": "#888"}, {"offset": 0.0889, "color": "#888"}, {"offset": 0.0889, "color": "#fff"}, {"offset": 0.1111, "color": "#fff"},
      {"offset": 0.1111, "color": "#888"}, {"offset": 0.1259, "color": "#888"}, {"offset": 0.1259, "color": "#fff"}, {"offset": 0.1481, "color": "#fff"},
      {"offset": 0.1481, "color": "#888"}, {"offset": 0.163, "color": "#888"}, {"offset": 0.163, "color": "#fff"}, {"offset": 0.1852, "color": "#fff"},
      {"offset": 0.1852, "color": "#888"}, {"offset": 0.2, "color": "#888"}, {"offset": 0.2, "color": "#fff"}, {"offset": 0.2222, "color": "#fff"},
      {"offset": 0.2222, "color": "#888"}, {"offset": 0.237, "color": "#888"}, {"offset": 0.237, "color": "#fff"}, {"offset": 0.2593, "color": "#fff"},
      {"offset": 0.2593, "color": "#888"}, {"offset": 0.2741, "color": "#888"}, {"offset": 0.2741, "color": "#fff"}, {"offset": 0.2963, "color": "#fff"},
      {"offset": 0.2963, "color": "#888"}, {"offset": 0.3111, "color": "#888"}, {"offset": 0.3111, "color": "#fff"}, {"offset": 0.3333, "color": "#fff"},
      {"offset": 0.3333, "color": "#888"}, {"offset": 0.3481, "color": "#888"}, {"offset": 0.3481, "color": "#fff"}, {"offset": 0.3704, "color": "#fff"},
      {"offset": 0.3704, "color": "#888"}, {"offset": 0.3852, "color": "#888"}, {"offset": 0.3852, "color": "#fff"}, {"offset": 0.4074, "color": "#fff"},
      {"offset": 0.4074, "color": "#888"}, {"offset": 0.4222, "color": "#888"}, {"offset": 0.4222, "color": "#fff"}, {"offset": 0.4444, "color": "#fff"},
      {"offset": 0.4444, "color": "#888"}, {"offset": 0.4593, "color": "#888"}, {"offset": 0.4593, "color": "#fff"}, {"offset": 0.4815, "color": "#fff"},
      {"offset": 0.4815, "color": "#888"}, {"offset": 0.4963, "color": "#888"}, {"offset": 0.4963, "color": "#fff"}, {"offset": 0.5185, "color": "#fff"},
      {"offset": 0.5185, "color": "#888"}, {"offset": 0.5333, "color": "#888"}, {"offset": 0.5333, "color": "#fff"}, {"offset": 0.5556, "color": "#fff"},
      {"offset": 0.5556, "color": "#888"}, {"offset": 0.5704, "color": "#888"}, {"offset": 0.5704, "color": "#fff"}, {"offset": 0.5926, "color": "#fff"},
      {"offset": 0.5926, "color": "#888"}, {"offset": 0.6074, "color": "#888"}, {"offset": 0.6074, "color": "#fff"}, {"offset": 0.6296, "color": "#fff"},
      {"offset": 0.6296, "color": "#888"}, {"offset": 0.6444, "color": "#888"}, {"offset": 0.6444, "color": "#fff"}, {"offset": 0.6667, "color": "#fff"},
      {"offset": 0.6667, "color": "#888"}, {"offset": 0.6815, "color": "#888"}, {"offset": 0.6815, "color": "#fff"}, {"offset": 0.7037, "color": "#fff"},
      {"offset": 0.7037, "color": "#888"}, {"offset": 0.7185, "color": "#888"}, {"offset": 0.7185, "color": "#fff"}, {"offset": 0.7407, "color": "#fff"},
      {"offset": 0.7407, "color": "#888"}, {"offset": 0.7556, "color": "#888"}, {"offset": 0.7556, "color": "#fff"}, {"offset": 0.7778, "color": "#fff"},
      {"offset": 0.7778, "color": "#888"}, {"offset": 0.7926, "color": "#888"}, {"offset": 0.7926, "color": "#fff"}, {"offset": 0.8148, "color": "#fff"},
      {"offset": 0.8148, "color": "#888"}, {"offset": 0.8296, "color": "#888"}, {"offset": 0.8296, "color": "#fff"}, {"offset": 0.8519, "color": "#fff"},
      {"offset": 0.8519, "color": "#888"}, {"offset": 0.8667, "color": "#888"}, {"offset": 0.8667, "color": "#fff"}, {"offset": 0.8889, "color": "#fff"},
      {"offset": 0.8889, "color": "#888"}, {"offset": 0.9037, "color": "#888"}, {"offset": 0.9037, "color": "#fff"}, {"offset": 0.9259, "color": "#fff"},
      {"offset": 0.9259, "color": "#888"}, {"offset": 0.9407, "color": "#888"}, {"offset": 0.9407, "color": "#fff"}, {"offset": 0.963, "color": "#fff"},
      {"offset": 0.963, "color": "#888"}, {"offset": 0.9778, "color": "#888"}, {"offset": 0.9778, "color": "#fff"}, {"offset": 1, "color": "#fff"}]}},
     "encoding": {"x": {"field": "g", "type": "nominal", "sort": null}, "y": {"field": "v", "type": "quantitative"}}},
    {"mark": {"type": "rule", "strokeWidth": 1.6}, "encoding": {"x": {"field": "g", "type": "nominal", "sort": null}, "y": {"field": "v", "type": "quantitative"}, "y2": {"field": "e"}}},
    {"mark": {"type": "tick", "thickness": 1.6, "size": 22}, "encoding": {"x": {"field": "g", "type": "nominal", "sort": null}, "y": {"field": "e", "type": "quantitative"}}}
   ]},
  {"layer": [
   {"data": {"values": [{"x": 0, "x2": 0, "y": 1.255, "y2": 1.11}, {"x": 0, "x2": 2.04, "y": 1.255, "y2": 1.255}, {"x": 2.04, "x2": 2.04, "y": 1.255, "y2": 1.01}]},
    "mark": {"type": "rule", "strokeWidth": 1.6},
    "encoding": {"x": {"field": "x", "type": "quantitative", "scale": {"domain": [-0.4835, 2.4835], "nice": false, "zero": false}, "axis": null}, "x2": {"field": "x2"}, "y": {"field": "y", "type": "quantitative"}, "y2": {"field": "y2"}}},
   {"data": {"values": [{"x": 1.15, "y": 1.255, "s": "NS"}]},
    "mark": {"type": "text", "font": "Liberation Serif", "fontSize": 13, "baseline": "alphabetic", "dy": -1.5},
    "encoding": {"x": {"field": "x", "type": "quantitative", "axis": null}, "y": {"field": "y", "type": "quantitative"}, "text": {"field": "s"}}},
   {"data": {"values": [{"s": "GAS5"}]},
    "mark": {"type": "text", "fontSize": 11.5, "align": "left", "baseline": "middle", "dx": 3.8, "dy": 0.7},
    "encoding": {"x": {"datum": -0.4835, "type": "quantitative", "axis": null}, "y": {"datum": 1.5, "type": "quantitative"}, "text": {"field": "s"}}},
   {"data": {"values": [{"s": "J"}]},
    "mark": {"type": "text", "font": "Liberation Serif", "fontSize": 17, "align": "center", "baseline": "middle", "dx": -29.5, "dy": -14},
    "encoding": {"x": {"datum": -0.4835, "type": "quantitative", "axis": null}, "y": {"datum": 1.5, "type": "quantitative"}, "text": {"field": "s"}}}
  ]}
 ]},
 {"width": 268.5, "height": 146, "layer": [
   {"data": {"values": [{"s": "TGGG-TCATCGGTC——TACATCGA"}]}, "mark": {"type": "text", "font": "Liberation Mono", "fontSize": 8.8, "align": "left", "baseline": "middle"},
    "encoding": {"x": {"datum": -0.5, "type": "quantitative", "scale": {"domain": [-18.74, 32.16], "nice": false, "zero": false}, "axis": null}, "y": {"datum": 52.2, "type": "quantitative", "scale": {"domain": [0, 146], "reverse": true, "nice": false, "zero": false}, "axis": null}, "text": {"field": "s"}}},
   {"data": {"values": [{"s": "TCTCTTATTTCCAGTTCTGTGGCA"}]}, "mark": {"type": "text", "font": "Liberation Mono", "fontSize": 8.8, "align": "left", "baseline": "middle"},
    "encoding": {"x": {"datum": -0.5, "type": "quantitative", "axis": null}, "y": {"datum": 77.2, "type": "quantitative", "axis": null}, "text": {"field": "s"}}},
   {"data": {"values": [{"s": "TAGT-TCTTCTTGA——TGCTTGTA"}]}, "mark": {"type": "text", "font": "Liberation Mono", "fontSize": 8.8, "align": "left", "baseline": "middle"},
    "encoding": {"x": {"datum": -0.5, "type": "quantitative", "axis": null}, "y": {"datum": 102.5, "type": "quantitative", "axis": null}, "text": {"field": "s"}}},
   {"data": {"values": [{"s": "Bio-miR-222-wt 3'"}]}, "mark": {"type": "text", "font": "Liberation Serif", "fontSize": 9.8, "align": "right", "baseline": "middle"},
    "encoding": {"x": {"datum": -1.0, "type": "quantitative", "axis": null}, "y": {"datum": 52.2, "type": "quantitative", "axis": null}, "text": {"field": "s"}}},
   {"data": {"values": [{"s": "GAS5 5'"}]}, "mark": {"type": "text", "font": "Liberation Serif", "fontSize": 9.8, "align": "right", "baseline": "middle"},
    "encoding": {"x": {"datum": -1.0, "type": "quantitative", "axis": null}, "y": {"datum": 77.2, "type": "quantitative", "axis": null}, "text": {"field": "s"}}},
   {"data": {"values": [{"s": "Bio-miR-222-mut 3'"}]}, "mark": {"type": "text", "font": "Liberation Serif", "fontSize": 9.8, "align": "right", "baseline": "middle"},
    "encoding": {"x": {"datum": -1.0, "type": "quantitative", "axis": null}, "y": {"datum": 102.5, "type": "quantitative", "axis": null}, "text": {"field": "s"}}},
   {"data": {"values": [{"c": 1, "k": "wc"}, {"c": 2, "k": "gu"}, {"c": 3, "k": "wc"}, {"c": 10, "k": "wc"}, {"c": 11, "k": "wc"}, {"c": 12, "k": "wc"}, {"c": 13, "k": "wc"}, {"c": 17, "k": "wc"}, {"c": 18, "k": "wc"}, {"c": 19, "k": "wc"}, {"c": 20, "k": "gu"}, {"c": 21, "k": "wc"}, {"c": 22, "k": "wc"}]},
    "mark": {"type": "rule", "strokeWidth": 2},
    "encoding": {"x": {"field": "c", "type": "quantitative", "axis": null}, "y": {"datum": 57.5, "type": "quantitative", "axis": null}, "y2": {"datum": 71.5}, "strokeDash": {"field": "k", "type": "nominal", "scale": {"domain": ["wc", "gu"], "range": [[1, 0], [2, 1.5]]}, "legend": null}}},
   {"data": {"values": [{"c": 16, "k": "wc"}]},
    "mark": {"type": "rule", "strokeWidth": 2},
    "encoding": {"x": {"field": "c", "type": "quantitative", "axis": null}, "y": {"datum": 85.5, "type": "quantitative", "axis": null}, "y2": {"datum": 95.5}}},
   {"data": {"values": [{"s": "K"}]}, "mark": {"type": "text", "font": "Liberation Serif", "fontSize": 17, "align": "center", "baseline": "middle", "dx": 6.5, "dy": 5.5},
    "encoding": {"x": {"datum": -18.74, "type": "quantitative", "axis": null}, "y": {"datum": 0, "type": "quantitative", "axis": null}, "text": {"field": "s"}}}
 ]},
 {"width": 189, "height": 129.5, "resolve": {"scale": {"x": "independent"}}, "layer": [
  {"data": {"values": [{"g": "Bio-miR-NC", "v": 1.0, "e": 1.05, "p": "fine"}, {"g": "Bio-miR-222-wt", "v": 12.45, "e": 13.4, "p": "coarse"}, {"g": "Bio-miR-222-mut", "v": 1.2, "e": 1.3, "p": "stripe"}]},
   "layer": [
    {"mark": {"type": "bar", "stroke": "black", "strokeWidth": 1.6}, "encoding": {
      "x": {"field": "g", "type": "nominal", "sort": null, "scale": {"paddingInner": 0.23, "paddingOuter": 0.069}, "axis": {"title": null, "labelFontSize": 13.5, "labelAngle": -13, "labelAlign": "right", "labelBaseline": "top", "labelPadding": 2, "labelOffset": 13}},
      "y": {"field": "v", "type": "quantitative", "scale": {"domain": [0, 15], "range": [129.5, 0.2], "nice": false}, "axis": {"values": [0, 5, 10, 15], "tickCount": 12, "format": "d", "labelOverlap": false, "title": "GAS5 enrichment", "titleFontSize": 12, "titlePadding": 0, "labelFontSize": 9}},
      "fill": {"field": "p", "type": "nominal", "scale": {"domain": ["fine", "coarse", "stripe"], "range": ["#8e8e8e", "#a2a2a2", "#d0d0d0"]}, "legend": null}}},
    {"transform": [{"filter": "datum.p == 'stripe'"}], "mark": {"type": "bar", "stroke": "black", "strokeWidth": 1.6, "fill": {"gradient": "linear", "x1": 0, "y1": 0, "x2": 0, "y2": 1, "stops": [
      {"offset": 0, "color": "#888"}, {"offset": 0.1333, "color": "#888"}, {"offset": 0.1333, "color": "#fff"}, {"offset": 0.3333, "color": "#fff"},
      {"offset": 0.3333, "color": "#888"}, {"offset": 0.4667, "color": "#888"}, {"offset": 0.4667, "color": "#fff"}, {"offset": 0.6667, "color": "#fff"},
      {"offset": 0.6667, "color": "#888"}, {"offset": 0.8, "color": "#888"}, {"offset": 0.8, "color": "#fff"}, {"offset": 1, "color": "#fff"}]}},
     "encoding": {"x": {"field": "g", "type": "nominal", "sort": null}, "y": {"field": "v", "type": "quantitative"}}},
    {"mark": {"type": "rule", "strokeWidth": 1.6}, "encoding": {"x": {"field": "g", "type": "nominal", "sort": null}, "y": {"field": "v", "type": "quantitative"}, "y2": {"field": "e"}}},
    {"mark": {"type": "tick", "thickness": 1.6, "size": 22}, "encoding": {"x": {"field": "g", "type": "nominal", "sort": null}, "y": {"field": "e", "type": "quantitative"}}}
   ]},
  {"layer": [
   {"data": {"values": [{"x": 0, "x2": 0, "y": 14.8, "y2": 2.9}, {"x": 0, "x2": 0.98, "y": 14.8, "y2": 14.8}, {"x": 0.98, "x2": 0.98, "y": 14.8, "y2": 13.7}]},
    "mark": {"type": "rule", "strokeWidth": 1.6},
    "encoding": {"x": {"field": "x", "type": "quantitative", "scale": {"domain": [-0.454, 2.454], "nice": false, "zero": false}, "axis": null}, "x2": {"field": "x2"}, "y": {"field": "y", "type": "quantitative"}, "y2": {"field": "y2"}}},
   {"data": {"values": [{"x": 0.5, "y": 14.8, "s": "**"}]},
    "mark": {"type": "text", "fontWeight": "bold", "fontSize": 13, "baseline": "alphabetic", "dy": 1},
    "encoding": {"x": {"field": "x", "type": "quantitative", "axis": null}, "y": {"field": "y", "type": "quantitative"}, "text": {"field": "s"}}},
   {"data": {"values": [{"s": "L"}]},
    "mark": {"type": "text", "font": "Liberation Serif", "fontSize": 17, "align": "center", "baseline": "middle", "dx": -34, "dy": -8},
    "encoding": {"x": {"datum": -0.454, "type": "quantitative", "axis": null}, "y": {"datum": 15, "type": "quantitative"}, "text": {"field": "s"}}}
  ]}
 ]}
]
}
